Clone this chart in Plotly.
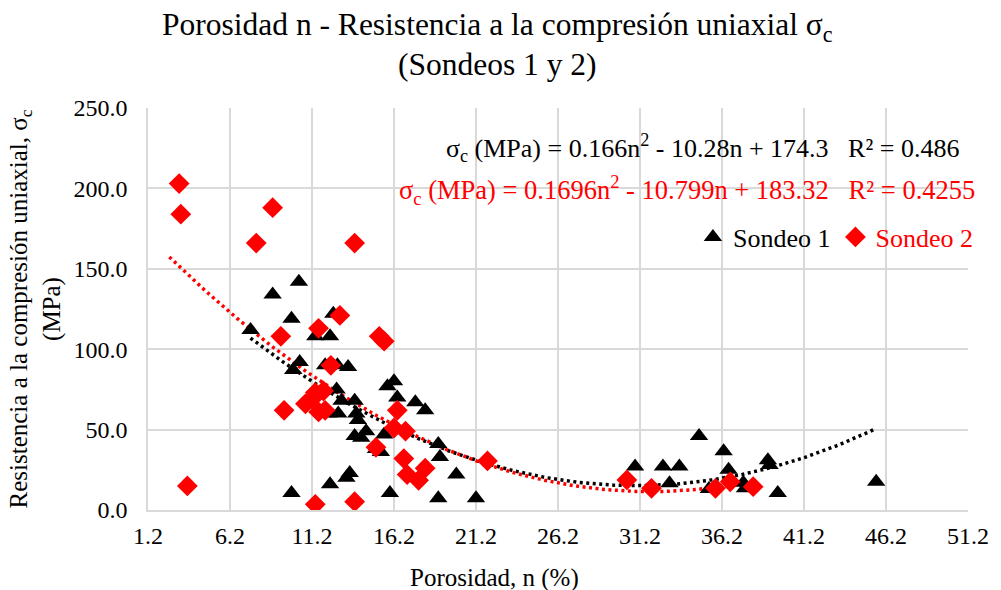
import numpy as np
import plotly.graph_objects as go

# Sondeo 1 (black triangles): porosity n (%), sigma_c (MPa)
s1_n = [7.45, 8.8, 9.95, 10.4, 11.4, 12.3, 12.5, 10.45, 10.05, 12.0, 12.75, 13.4,
        12.7, 13.0, 13.8, 12.2, 12.8, 13.9, 14.0, 13.8, 14.2, 14.5, 15.1, 15.4,
        15.6, 15.8, 16.2, 16.4, 17.5, 18.1, 18.9, 19.0, 20.0, 18.9, 21.2, 13.5,
        13.3, 12.3, 9.95, 15.95, 30.9, 32.6, 33.6, 33.0, 34.8, 36.3, 36.6, 35.4,
        37.5, 37.6, 39.0, 39.1, 39.6, 45.6]
s1_sc = [112, 134, 119, 142, 108, 108, 122, 92, 87, 90, 90, 89,
         75, 68, 68, 60, 60, 60, 56, 46, 45, 49, 38, 36,
         47, 77, 80, 70, 67, 62, 41, 33, 22, 7.3, 7.3, 23,
         20, 16, 10.5, 10.5, 27, 27, 27, 16.6, 46, 36.5, 25, 13,
         17, 13.5, 31, 28, 10.5, 17.6]

# Sondeo 2 (red diamonds)
s2_n = [3.1, 3.2, 3.6, 7.8, 8.8, 9.3, 9.5, 13.8, 12.9, 11.6, 12.35, 15.3,
        15.6, 10.8, 11.2, 11.4, 11.6, 11.9, 12.0, 16.4, 16.2, 16.9, 15.1, 16.8,
        17.0, 17.7, 18.1, 21.9, 11.4, 13.8, 30.4, 31.9, 35.8, 36.7, 38.1]
s2_sc = [203, 184, 15, 166, 188, 108, 62, 166, 121, 113, 90, 108,
         105, 66, 69, 73, 61, 74, 62, 62, 51, 49, 39, 32,
         22, 18.5, 26, 30.5, 3.5, 5.2, 18.7, 13.5, 13.5, 17.5, 14.5]

# Polynomial trendline coefficients (a n^2 + b n + c)
fit1 = [0.166, -10.28, 174.3]
fit2 = [0.1696, -10.799, 183.32]
r2_1 = "0.486"
r2_2 = "0.4255"
backcast2 = 0.6

FONT = "Liberation Serif"
RED = "#FF0000"
SP = "\u00a0" * 3

# plot area in pixels (for placing free texts)
L, R, T, B = 148, 974, 108, 510
def px(xp): return (xp - L) / (R - L)
def py(yp): return (B - yp) / (B - T)

fig = go.Figure()

def trend(fit, x0, x1):
    x = np.linspace(x0, x1, 300)
    return x, fit[0] * x**2 + fit[1] * x + fit[2]

tx1, ty1 = trend(fit1, min(s1_n), max(s1_n))
tx2, ty2 = trend(fit2, min(s2_n) - backcast2, max(s2_n))

fig.add_trace(go.Scatter(x=tx1, y=ty1, mode="lines", showlegend=False, hoverinfo="skip",
                         line=dict(color="black", width=3.5, dash="3px,3.5px")))
fig.add_trace(go.Scatter(x=tx2, y=ty2, mode="lines", showlegend=False, hoverinfo="skip",
                         line=dict(color=RED, width=3.5, dash="3px,3.5px")))

fig.add_trace(go.Scatter(x=s1_n, y=s1_sc, mode="markers", name="Sondeo 1",
                         marker=dict(symbol="triangle-up", size=16, color="black")))
fig.add_trace(go.Scatter(x=s2_n, y=s2_sc, mode="markers",
                         name="<span style='color:#FF0000'>Sondeo 2</span>",
                         marker=dict(symbol="diamond", size=16, color=RED)))

fig.update_layout(
    width=1001, height=590,
    margin=dict(l=L, r=1001 - R, t=T, b=590 - B),
    paper_bgcolor="white", plot_bgcolor="white",
    font=dict(family=FONT, size=24, color="black"),
    showlegend=True,
    legend=dict(orientation="h", x=px(984), xanchor="right", y=py(237), yanchor="middle",
                bgcolor="rgba(0,0,0,0)", font=dict(family=FONT, size=26, color="black"),
                itemwidth=30, traceorder="normal"),
)

fig.update_xaxes(range=[1.2, 51.2], tick0=1.2, dtick=5, tickformat=".1f",
                 showgrid=True, gridcolor="#D9D9D9", gridwidth=1.5,
                 showline=True, linecolor="#D9D9D9", linewidth=1.5,
                 zeroline=False, ticks="", ticklabelstandoff=3,
                 tickfont=dict(family=FONT, size=24), title=None)
fig.update_yaxes(range=[0, 250], tick0=0, dtick=50, tickformat=".1f",
                 showgrid=True, gridcolor="#D9D9D9", gridwidth=1.5,
                 showline=True, linecolor="#D9D9D9", linewidth=1.5,
                 zeroline=False, ticks="", ticklabelstandoff=14,
                 tickfont=dict(family=FONT, size=24),
                 title=dict(text="Resistencia a la compresión uniaxial, σ<sub>c</sub><br>(MPa)",
                            font=dict(family=FONT, size=25), standoff=6))

fig.add_annotation(text="Porosidad n - Resistencia a la compresión uniaxial σ<sub>c</sub>",
                   xref="paper", yref="paper", x=px(500), y=py(27),
                   xanchor="center", yanchor="middle", showarrow=False,
                   font=dict(family=FONT, size=31.5))
fig.add_annotation(text="(Sondeos 1 y 2)",
                   xref="paper", yref="paper", x=px(500), y=py(64),
                   xanchor="center", yanchor="middle", showarrow=False,
                   font=dict(family=FONT, size=31.5))

fig.add_annotation(text="Porosidad, n (%)", xref="paper", yref="paper",
                   x=px(497), y=py(578), xanchor="center", yanchor="middle",
                   showarrow=False, font=dict(family=FONT, size=25))

eq1 = (f"σ<sub>c</sub> (MPa) = {fit1[0]}n<sup>2</sup> - {abs(fit1[1])}n + {fit1[2]}"
       f"{SP}R² = {r2_1}")
eq2 = (f"σ<sub>c</sub> (MPa) = {fit2[0]}n<sup>2</sup> - {abs(fit2[1])}n + {fit2[2]}"
       f"{SP}R² = {r2_2}")
fig.add_annotation(text=eq1, xref="paper", yref="paper", x=px(967), y=py(148),
                   xanchor="right", yanchor="middle", showarrow=False,
                   font=dict(family=FONT, size=26, color="black"))
fig.add_annotation(text=eq2, xref="paper", yref="paper", x=px(983), y=py(190),
                   xanchor="right", yanchor="middle", showarrow=False,
                   font=dict(family=FONT, size=26.5, color=RED))

fig.write_html("out.html")
